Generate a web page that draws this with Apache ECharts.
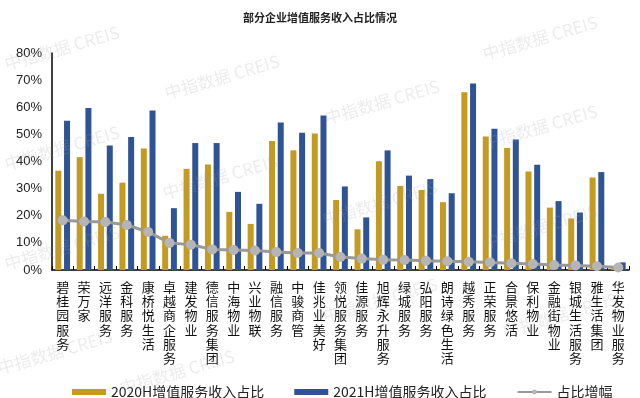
<!DOCTYPE html>
<html>
<head>
<meta charset="utf-8">
<script src="https://cdn.jsdelivr.net/npm/echarts@6/dist/echarts.min.js"></script>
<style>
  html, body { margin: 0; padding: 0; background: #fff; }
  #chart { width: 640px; height: 398px; }
</style>
</head>
<body>
<div id="chart"></div>
<script>
// 企业名称
const companies = ['碧桂园服务', '荣万家', '远洋服务', '金科服务', '康桥悦生活', '卓越商企服务', '建发物业',
  '德信服务集团', '中海物业', '兴业物联', '融信服务', '中骏商管', '佳兆业美好', '领悦服务集团', '佳源服务',
  '旭辉永升服务', '绿城服务', '弘阳服务', '朗诗绿色生活', '越秀服务', '正荣服务', '合景悠活', '保利物业',
  '金融街物业', '银城生活服务', '雅生活集团', '华发物业服务']
// 2020H 增值服务收入占比 (%)
const share2020 = [36.6, 41.6, 28.1, 32.2, 44.8, 12.6, 37.3, 38.9, 21.4, 17.0, 47.6, 44.1, 50.3, 25.8, 15.0,
  40.1, 31.0, 29.5, 25.0, 65.5, 49.2, 45.0, 36.3, 23.0, 19.0, 34.1, 0.8]
// 2021H 增值服务收入占比 (%)
const share2021 = [55.0, 59.7, 45.9, 49.0, 58.8, 22.8, 46.8, 46.8, 28.8, 24.4, 54.4, 50.6, 57.0, 30.8, 19.4,
  44.1, 34.8, 33.5, 28.3, 68.8, 52.1, 48.1, 38.8, 25.4, 21.2, 36.1, 2.8]
// 占比增幅 (%)
const growth = [18.3, 17.9, 17.7, 16.6, 14.0, 10.0, 9.3, 7.6, 7.4, 7.2, 6.6, 6.3, 6.3, 4.8, 4.2,
  3.8, 3.7, 3.4, 3.2, 3.0, 2.8, 2.5, 2.2, 1.8, 1.7, 1.4, 0.9]
const yTicks = [0, 10, 20, 30, 40, 50, 60, 70, 80]

const fontCN = '"Noto Sans CJK SC", "Noto Sans", sans-serif'

// 水印
const marks = [[62, 48], [222, 77], [62, 148], [220, 177], [62, 248], [382, 102], [540, 127],
  [380, 203], [540, 227], [540, 38], [55, 352], [177, 372], [380, 300], [560, 315]]
const watermark = marks.map(p => ({
  type: 'text',
  x: p[0], y: p[1],
  rotation: 0.28,
  z: 100,
  style: {
    text: '中指数据 CREIS',
    font: '17px ' + fontCN,
    fill: 'rgba(160,160,160,0.2)',
    align: 'center',
    verticalAlign: 'middle'
  }
}))

const chart = echarts.init(document.getElementById('chart'))
chart.setOption({
  animation: false,
  title: {
    text: '部分企业增值服务收入占比情况',
    left: 'center',
    top: 7,
    textStyle: { fontSize: 11, fontWeight: 'bold', color: '#222', fontFamily: fontCN }
  },
  legend: {
    left: 67,
    top: 380,
    itemGap: 30,
    itemWidth: 34,
    itemHeight: 6,
    textStyle: { fontSize: 14, color: '#222', fontFamily: fontCN },
    data: [
      { name: '2020H增值服务收入占比', icon: 'rect' },
      { name: '2021H增值服务收入占比', icon: 'rect' },
      { name: '占比增幅' }
    ]
  },
  grid: { left: 52, right: 11, top: 53, bottom: 128 },
  xAxis: {
    type: 'category',
    data: companies,
    axisLine: { lineStyle: { color: '#000', width: 1.5 } },
    axisTick: { show: true, inside: true, length: 4, lineStyle: { color: '#000' } },
    axisLabel: {
      interval: 0,
      margin: 10,
      fontSize: 13,
      lineHeight: 14.2,
      color: '#111',
      fontFamily: fontCN,
      verticalAlign: 'top',
      formatter: v => v.split('').join('\n')
    }
  },
  yAxis: {
    type: 'value',
    min: yTicks[0],
    max: yTicks[yTicks.length - 1],
    interval: 10,
    axisLine: { show: true, lineStyle: { color: '#000', width: 1.5 } },
    axisTick: { show: false },
    splitLine: { show: false },
    axisLabel: {
      fontSize: 13,
      color: '#222',
      margin: 10,
      fontFamily: 'Arial, "Liberation Sans", sans-serif',
      formatter: v => v + '%'
    }
  },
  series: [
    {
      name: '2020H增值服务收入占比',
      type: 'bar',
      data: share2020,
      barWidth: 6,
      barGap: '45%',
      itemStyle: { color: '#C49A20' }
    },
    {
      name: '2021H增值服务收入占比',
      type: 'bar',
      data: share2021,
      barWidth: 6,
      itemStyle: { color: '#2F5496' }
    },
    {
      name: '占比增幅',
      type: 'line',
      data: growth,
      symbol: 'circle',
      symbolSize: 10,
      lineStyle: { color: '#999', width: 3 },
      itemStyle: { color: '#B5B5B5' },
      z: 5
    }
  ],
  graphic: watermark
})
</script>
</body>
</html>
